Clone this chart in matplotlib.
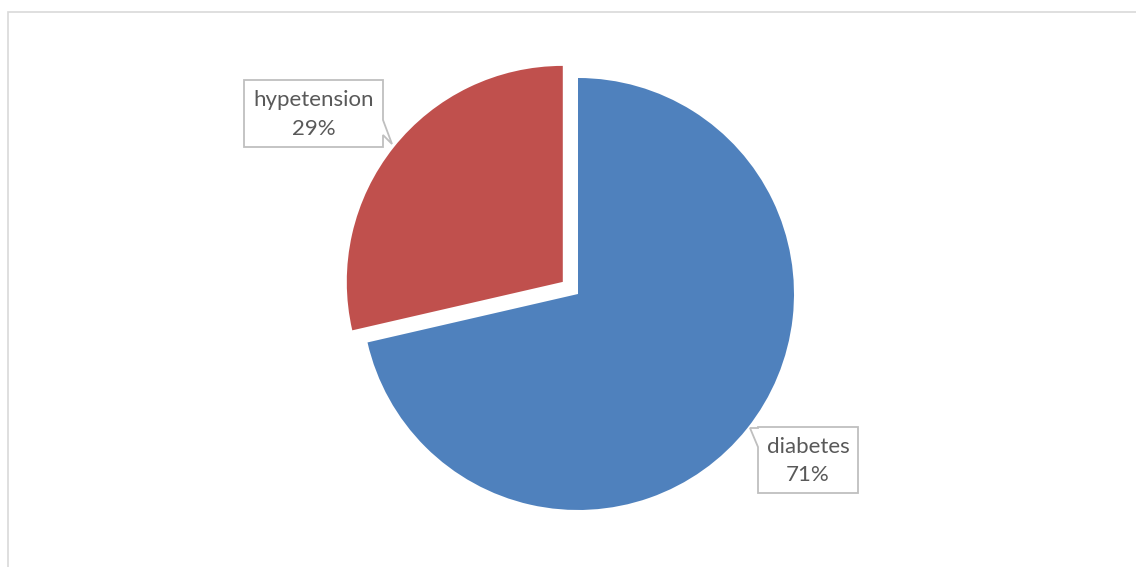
import matplotlib.pyplot as plt
from matplotlib.patches import Polygon, Rectangle

# data (percent shares, labels show rounded values)
labels = ["diabetes", "hypetension"]
shares = [71.4, 28.6]
colors = ["#4F81BD", "#C0504D"]

W, H = 1136, 567
plt.rcParams['font.family'] = ['Lato', 'DejaVu Sans']

fig = plt.figure(figsize=(W / 100, H / 100), dpi=100)
fig.patch.set_facecolor("white")

# outer chart frame (left/top edges visible, rest runs off)
fig.patches.append(Rectangle((7.5 / W, -0.1), 1.2, (H - 11.5) / H + 0.1,
                             transform=fig.transFigure, fill=False,
                             edgecolor="#D9D9D9", linewidth=1.2))

ax = fig.add_axes([297.2 / W, -7.8 / H, 561.6 / W, 561.6 / H])
ax.pie(shares, colors=colors, startangle=90, counterclock=False,
       explode=[0, 0.09], wedgeprops=dict(linewidth=0))
ax.set_xlim(-1.3, 1.3)
ax.set_ylim(-1.3, 1.3)
ax.set_aspect("equal")
ax.axis("off")


def px(x, y):
    return (x / W, 1 - y / H)


def callout(box, pointer, text):
    x0, y0, x1, y1 = box
    side, a, b, tip = pointer
    if side == "right":
        pts = [(x0, y0), (x1, y0), (x1, a), tip, (x1, b), (x1, y1), (x0, y1)]
    else:
        pts = [(x0, y0), (x1, y0), (x1, y1), (x0, y1), (x0, b), tip, (x0, a)]
    poly = Polygon([px(*p) for p in pts], closed=True, transform=fig.transFigure,
                   facecolor="white", edgecolor="#BFBFBF", linewidth=1.3)
    fig.patches.append(poly)
    cx, cy = (x0 + x1) / 2, (y0 + y1) / 2
    fig.text(*px(cx, cy + 1), text, ha="center", va="center", fontsize=16,
             color="#595959", linespacing=1.55)


callout((244, 80, 383, 147), ("right", 120, 135, (392, 144)),
        f"{labels[1]}\n{shares[1]:.0f}%")
callout((758, 427, 858, 493), ("left", 428, 447, (750, 428)),
        f"{labels[0]}\n{shares[0]:.0f}%")

fig.savefig("out.png", dpi=100)
